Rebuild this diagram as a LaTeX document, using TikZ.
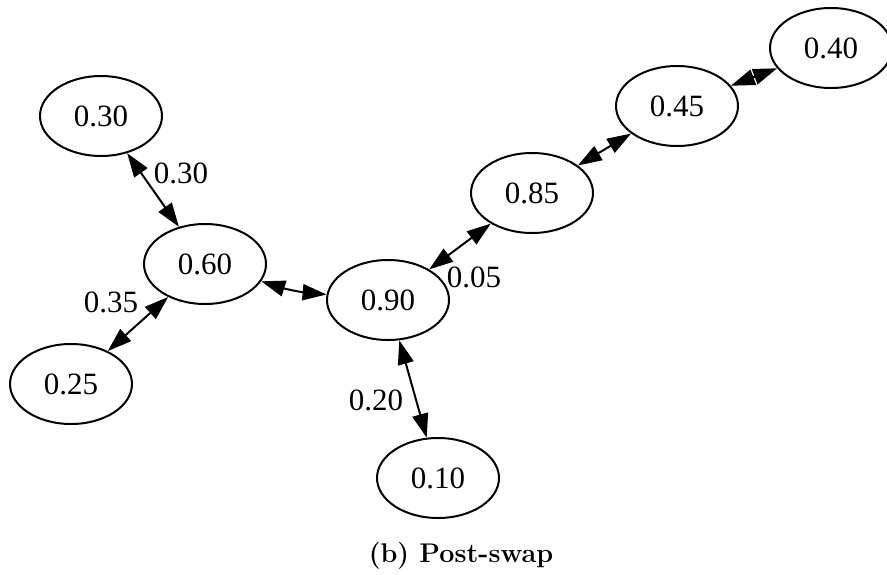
\documentclass[tikz,border=0pt]{standalone}
\usepackage{fontspec}
\newfontfamily\timesf{Liberation Serif}
\usetikzlibrary{arrows.meta,shapes.geometric}
\begin{document}
\begin{tikzpicture}[x=1pt,y=-1pt,
  nd/.style={ellipse, draw, line width=2pt, minimum width=122pt, minimum height=80pt, inner sep=0pt,
    font=\timesf\fontsize{31}{36}\selectfont},
  lbl/.style={inner sep=0pt, font=\timesf\fontsize{31}{36}\selectfont},
  conn/.style={line width=2pt, {Triangle[length=24pt,width=16pt]}-{Triangle[length=24pt,width=16pt]}}
]
\useasboundingbox (0,0) rectangle (887,574);

\node[nd] (n30) at (101,116) {0.30};
\node[nd] (n60) at (205,264) {0.60};
\node[nd] (n25) at (71,384) {0.25};
\node[nd] (n90) at (388,300) {0.90};
\node[nd] (n85) at (532,193) {0.85};
\node[nd] (n45) at (677,106) {0.45};
\node[nd] (n40) at (831,48) {0.40};
\node[nd] (n10) at (438,478) {0.10};

\draw[conn] (n30) -- (n60);
\draw[conn] (n25) -- (n60);
\draw[conn] (n60) to[bend right=6] (n90);
\draw[conn] (n90) -- (n85);
\draw[conn] (n85) -- (n45);
\draw[conn] (n45) -- (n40);
\draw[conn] (n90) -- (n10);

\node[lbl] (l1) at (181,173) {0.30};
\node[lbl] (l2) at (111,302) {0.35};
\node[lbl] (l3) at (474,277) {0.05};
\node[lbl] (l4) at (376,400) {0.20};

\node[anchor=base, inner sep=0pt, font=\fontsize{27}{31}\selectfont\bfseries] (cap) at (461,562) {(b) Post-swap};
\end{tikzpicture}
\end{document}
